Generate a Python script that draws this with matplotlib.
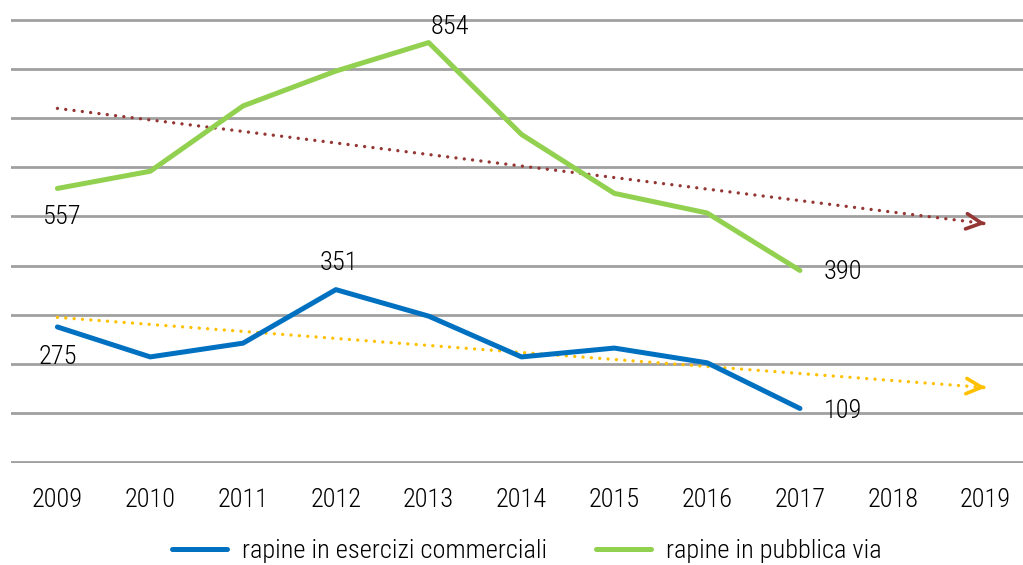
import numpy as np
import matplotlib.pyplot as plt

years = [2009, 2010, 2011, 2012, 2013, 2014, 2015, 2016, 2017]
esercizi = [275, 214, 242, 351, 297, 214, 232, 202, 109]
pubblica = [557, 592, 725, 796, 854, 667, 547, 507, 390]
tick_years = list(range(2009, 2020))
label_esercizi = "rapine in esercizi commerciali"
label_pubblica = "rapine in pubblica via"

plt.rcParams['font.family'] = ['Roboto Condensed', 'DejaVu Sans']
plt.rcParams['font.weight'] = 'light'

fig = plt.figure(figsize=(10.23, 5.65), dpi=100)
ax = fig.add_axes([11 / 1023, (565 - 463) / 565, 1021 / 1023, 444 / 565])

blue = '#0070C0'
green = '#92D050'
brown = '#943634'
yellow = '#FFC000'

ax.plot(years, esercizi, color=blue, lw=3.6, solid_capstyle='round', label=label_esercizi, zorder=3)
ax.plot(years, pubblica, color=green, lw=3.6, solid_capstyle='round', label=label_pubblica, zorder=3)

# linear trend lines extended to 2019
x = np.array(years, dtype=float)
xt = np.array([2009, 2019], dtype=float)
for vals, col in [(pubblica, brown), (esercizi, yellow)]:
    k, b = np.polyfit(x, vals, 1)
    yt = k * xt + b
    ax.plot(xt, yt, color=col, lw=2.4, ls=(0, (0.01, 2.5)), dash_capstyle='round', zorder=2)
    ax.annotate('', xy=(xt[1], yt[1]), xytext=(xt[1] - 0.05, yt[1] - k * 0.05),
                arrowprops=dict(arrowstyle='->,head_length=1.1,head_width=0.55', color=col, lw=2.6))

# data labels
fs = 19
ax.text(2009.05, 557 - 58, '557', fontsize=fs, ha='center', va='center')
ax.text(2009.0, 275 - 62, '275', fontsize=fs, ha='center', va='center')
ax.text(2012.03, 351 + 55, '351', fontsize=fs, ha='center', va='center')
ax.text(2013.23, 854 + 32, '854', fontsize=fs, ha='center', va='center')
ax.text(2017.46, 390 - 4, '390', fontsize=fs, ha='center', va='center')
ax.text(2017.46, 109 - 5, '109', fontsize=fs, ha='center', va='center')

ax.set_xlim(2008.5, 2019.5)
ax.set_ylim(-2, 902)
ax.set_yticks(np.arange(0, 901, 100))
ax.set_yticklabels([])
ax.set_xticks(tick_years)
ax.set_xticklabels([str(t) for t in tick_years], fontsize=fs)
ax.tick_params(axis='both', length=0)
ax.tick_params(axis='x', pad=18)
ax.yaxis.grid(True, color='#A0A0A0', lw=2.0)
ax.set_axisbelow(True)
for s in ax.spines.values():
    s.set_visible(False)

fig.legend(loc='center', bbox_to_anchor=(0.515, 1 - 551 / 565), ncol=2, frameon=False,
           fontsize=fs, handlelength=2.1, handletextpad=0.57, columnspacing=1.85)

fig.savefig('out.png', dpi=100)
